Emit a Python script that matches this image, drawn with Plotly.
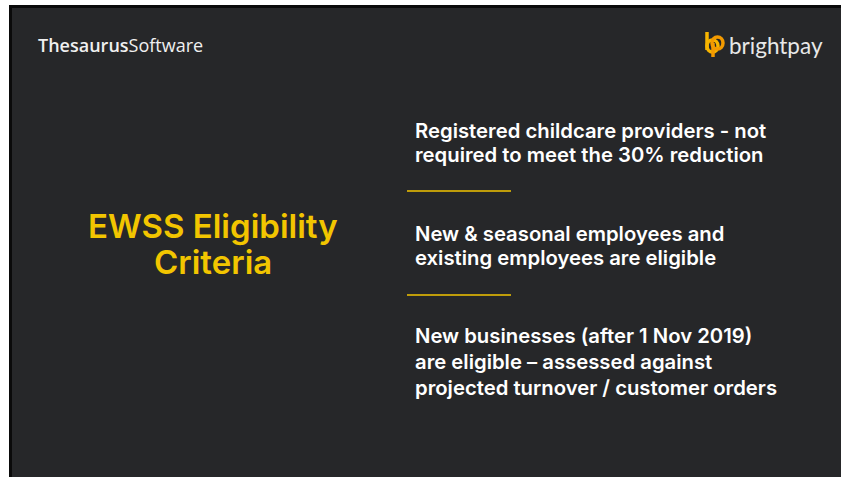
import plotly.graph_objects as go

W, H = 841, 477
BG = "#262729"
YELLOW = "#F2C500"
WHITE = "#FFFFFF"

title_lines = ["EWSS Eligibility", "Criteria"]
title_y = [226, 262]

body_lines = [
    "Registered childcare providers - not",
    "required to meet the 30% reduction",
    "New & seasonal employees and",
    "existing employees are eligible",
    "New businesses (after 1 Nov 2019)",
    "are eligible \u2013 assessed against",
    "projected turnover / customer orders",
]
body_y = [130, 154, 233, 257, 335, 361, 387]
divider_y = [191, 295]

fig = go.Figure()
fig.add_trace(go.Scatter(x=[0, W], y=[0, H], mode="markers", marker=dict(opacity=0), hoverinfo="skip", showlegend=False))

shapes = []
# black border + dark slide
shapes.append(dict(type="rect", x0=9, y0=5, x1=W + 5, y1=H + 5, fillcolor="#0a0a0a", line=dict(width=0), layer="below"))
shapes.append(dict(type="rect", x0=12, y0=8, x1=W + 5, y1=H + 5, fillcolor=BG, line=dict(width=0), layer="below"))
for yy in divider_y:
    shapes.append(dict(type="line", x0=407, x1=511, y0=yy, y1=yy, line=dict(color=YELLOW, width=1.3)))

# brightpay icon
ICON1 = "#F7B500"
ICON2 = "#F39A00"
shapes.append(dict(type="line", x0=707, x1=707, y0=32, y1=50, line=dict(color=ICON1, width=3.5)))
shapes.append(dict(type="circle", x0=707, x1=718, y0=40, y1=52, line=dict(color=ICON1, width=3.5)))
shapes.append(dict(type="circle", x0=712, x1=723, y0=37, y1=49, line=dict(color=ICON2, width=3.5)))
shapes.append(dict(type="line", x0=713, x1=713, y0=43, y1=57, line=dict(color=ICON2, width=3.5)))

annotations = []
annotations.append(dict(x=36, y=45, xanchor="left", yanchor="middle", showarrow=False,
                        text="<span style='font-weight:600'>Thesaurus</span>Software",
                        font=dict(family="Open Sans", size=18, color="#F0F0F0")))
annotations.append(dict(x=727, y=45, xanchor="left", yanchor="middle", showarrow=False,
                        text="brightpay", font=dict(family="Lato", size=22.5, color="#E8E8E8")))
for t, yy in zip(title_lines, title_y):
    annotations.append(dict(x=213, y=yy, xanchor="center", yanchor="middle", showarrow=False,
                            text=t, font=dict(family="Inter", size=33, weight=600, color=YELLOW)))
for t, yy in zip(body_lines, body_y):
    annotations.append(dict(x=413, y=yy, xanchor="left", yanchor="middle", showarrow=False,
                            text=t, font=dict(family="Inter", size=20.3, weight=600, color=WHITE)))

fig.update_layout(
    width=W, height=H, margin=dict(l=0, r=0, t=0, b=0),
    paper_bgcolor="white", plot_bgcolor="white",
    xaxis=dict(range=[0, W], visible=False, fixedrange=True),
    yaxis=dict(range=[H, 0], visible=False, fixedrange=True),
    shapes=shapes, annotations=annotations, showlegend=False,
)
fig.write_html("out.html", config={"displayModeBar": False},
               post_script="document.body.style.margin='0';document.body.style.overflow='hidden';")
